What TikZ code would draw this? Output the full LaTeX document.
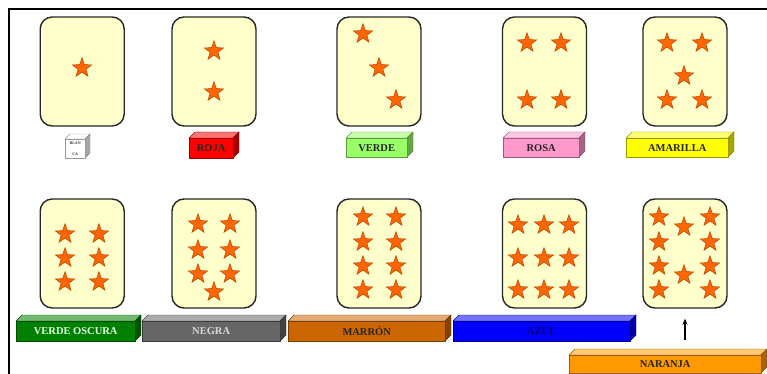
\documentclass[tikz,border=0pt]{standalone}
\usepackage{fontspec}
\setmainfont{Liberation Serif}
\usetikzlibrary{shapes.geometric,arrows.meta}
\definecolor{cardfill}{HTML}{FFFFCC}
\definecolor{starfill}{HTML}{FF6600}
\definecolor{stardraw}{HTML}{B84000}
\definecolor{cRoja}{HTML}{FF0000}
\definecolor{cVerde}{HTML}{99FF66}
\definecolor{cRosa}{HTML}{FF99CC}
\definecolor{cAmarilla}{HTML}{FFFF00}
\definecolor{cVOscura}{HTML}{008000}
\definecolor{cNegra}{HTML}{666666}
\definecolor{cMarron}{HTML}{CC6600}
\definecolor{cAzul}{HTML}{0000FF}
\definecolor{cNaranja}{HTML}{FF9900}
\definecolor{cBlanca}{HTML}{FFFFFF}
\newcommand\tinyfnt{\fontsize{4}{4.5}\selectfont}
\tikzset{
  card/.style={draw=black!85, line width=1.4pt, fill=cardfill, rounded corners=12pt,
    inner sep=0pt, minimum width=84pt, minimum height=109pt},
  starnode/.style={star, star points=5, star point ratio=2.5, minimum size=20.5pt,
    inner sep=0pt, fill=starfill, draw=stardraw, line width=0.5pt},
  labnode/.style={font=\bfseries\fontsize{10.5}{11}\selectfont, inner sep=0pt,
    line width=0.4pt, align=center, anchor=north west},
  frame/.style={line width=2.5pt, black}
}
% #1 name, #2 x1, #3 x2, #4 ytop, #5 ybottom, #6 depth, #7 colour, #8 text colour, #9 text
\newcommand\tdbox[9]{%
  \filldraw[fill=#7!55!white, draw=#7!60!black, line width=0.4pt]
    (#2,#4) -- ({#2+#6},{#4-#6}) -- ({#3+#6},{#4-#6}) -- (#3,#4) -- cycle;
  \filldraw[fill=#7!65!black, draw=#7!50!black, line width=0.4pt]
    (#3,#4) -- ({#3+#6},{#4-#6}) -- ({#3+#6},{#5-#6}) -- (#3,#5) -- cycle;
  \node[labnode, draw=#7!60!black, fill=#7, text=#8,
    minimum width={#3-#2}, minimum height={#5-#4}] (#1) at (#2,#4) {#9};
}
\begin{document}
\begin{tikzpicture}[x=1pt,y=-1pt]
\useasboundingbox (0,0) rectangle (767,374);
\fill[white] (0,0) rectangle (767,374);
\draw[frame] (9,374) -- (9,9) -- (767,9);

% cards
\node[card] (c1) at (82.2,71.5) {};
\node[card] (c2) at (214,71.5) {};
\node[card] (c3) at (379,71.5) {};
\node[card] (c4) at (544.5,71.5) {};
\node[card] (c5) at (685,71.5) {};
\node[card] (c6) at (82.2,253.5) {};
\node[card] (c7) at (214,253.5) {};
\node[card] (c8) at (379,253.5) {};
\node[card] (c9) at (544.5,253.5) {};
\node[card] (c10) at (685,253.5) {};

% stars
\foreach \x/\y [count=\i] in {
  82/68,
  214/51, 214/92,
  363/34, 379/68, 396/100,
  527/43, 561/43, 527/100, 561/100,
  667/43, 702/43, 684/76, 667/100, 702/100,
  65/234, 99/234, 65/258, 99/258, 65/282, 99/282,
  198/224, 230/224, 198/250, 230/250, 198/274, 230/274, 214/292,
  363/217, 396/217, 363/242, 396/242, 363/266, 396/266, 363/290, 396/290,
  518/225, 544/225, 569/225, 518/258, 544/258, 569/258, 518/290, 544/290, 569/290,
  659/217, 710/217, 659/242, 710/242, 659/266, 710/266, 659/290, 710/290, 684/227, 684/275}
  \node[starnode] (s\i) at (\x,\y) {};

% colour bars
\tdbox{blanca}{65}{85}{139}{158}{5}{cBlanca}{black!80}{\tinyfnt BLAN\\\tinyfnt CA}
\tdbox{roja}{189}{233}{138}{158}{6}{cRoja}{black!85}{ROJA}
\tdbox{verde}{346}{407}{138}{157}{6}{cVerde}{black!85}{VERDE}
\tdbox{rosa}{503}{579}{138}{157}{6}{cRosa}{black!85}{ROSA}
\tdbox{amarilla}{626}{728}{138}{157}{6}{cAmarilla}{black!85}{AMARILLA}
\tdbox{voscura}{16}{135}{321}{341}{6}{cVOscura}{white!90!green}{VERDE OSCURA}
\tdbox{negra}{142}{280}{321}{341}{6}{cNegra}{white!85!black}{NEGRA}
\tdbox{marron}{288}{445}{321}{341}{6}{cMarron}{black!85}{MARRÓN}
\tdbox{azul}{453}{630}{321}{341}{6}{cAzul}{blue!40!black}{AZUL}
\tdbox{naranja}{569}{761}{355}{373}{6}{cNaranja}{black!85}{NARANJA}

% arrow
\draw[-{Stealth[length=6pt,width=5pt]}, line width=1.2pt, shorten <=15pt, shorten >=10pt]
  (naranja.north -| c10.south) -- (c10.south);
\end{tikzpicture}
\end{document}
